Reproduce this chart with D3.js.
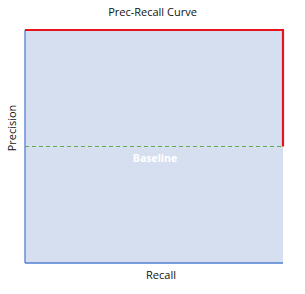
<!DOCTYPE html>
<html><head><meta charset="utf-8">
<script src="https://cdn.jsdelivr.net/npm/d3@7"></script>
<style>body{margin:0;background:#fff}svg{display:block}text{font-family:"Open Sans","Liberation Sans",sans-serif}</style>
</head><body><div id="c"></div>
<script>
const recall = [0, 1, 1];
const precision = [1, 1, 0.5];
const baseline = 0.5;
const titleText = "Prec-Recall Curve";
const xLabel = "Recall";
const yLabel = "Precision";
const baselineLabel = "Baseline";

const W = 305, H = 294;
const m = {l: 25, r: 22, t: 30, b: 31};
const svg = d3.select("#c").append("svg").attr("width", W).attr("height", H);
const x = d3.scaleLinear().domain([0, 1]).range([m.l, W - m.r]);
const y = d3.scaleLinear().domain([0, 1]).range([H - m.b, m.t]);

// area fill
svg.append("rect").attr("x", x(0)).attr("y", y(1)).attr("width", x(1) - x(0)).attr("height", y(0) - y(1))
  .attr("fill", "#d6dff0");

// axes lines
svg.append("line").attr("x1", x(0)).attr("x2", x(0)).attr("y1", y(1)).attr("y2", y(0)).attr("stroke", "#4f7fd0").attr("stroke-width", 1.3);
svg.append("line").attr("x1", x(0)).attr("x2", x(1)).attr("y1", y(0)).attr("y2", y(0)).attr("stroke", "#4f7fd0").attr("stroke-width", 1.3);

// baseline
svg.append("line").attr("x1", x(0)).attr("x2", x(1)).attr("y1", y(baseline)).attr("y2", y(baseline))
  .attr("stroke", "#6aa84f").attr("stroke-width", 1).attr("stroke-dasharray", "4,3");

// curve
const pts = recall.map((r, i) => [r, precision[i]]);
svg.append("path").datum(pts)
  .attr("d", d3.line().x(d => x(d[0])).y(d => y(d[1])))
  .attr("fill", "none").attr("stroke", "#e8141c").attr("stroke-width", 2.2);

svg.append("text").attr("x", (x(0) + x(1)) / 2 + 1).attr("y", y(baseline) + 15).attr("text-anchor", "middle")
  .attr("fill", "#fff").attr("font-size", 10.5).attr("font-weight", "bold").text(baselineLabel);

svg.append("text").attr("x", W / 2).attr("y", 16).attr("text-anchor", "middle").attr("font-size", 11).attr("fill", "#111").text(titleText);
svg.append("text").attr("x", 161).attr("y", 279).attr("text-anchor", "middle").attr("font-size", 11).attr("fill", "#111").text(xLabel);
svg.append("text").attr("transform", `translate(16,128) rotate(-90)`).attr("text-anchor", "middle").attr("font-size", 11).attr("fill", "#111").text(yLabel);
</script></body></html>
